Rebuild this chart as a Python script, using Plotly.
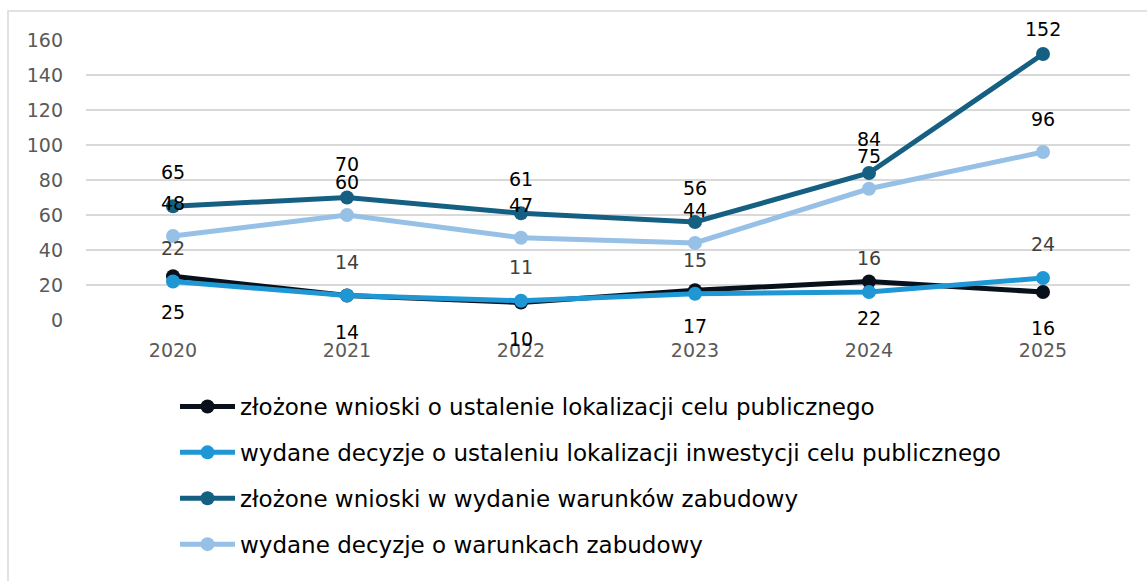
import plotly.graph_objects as go

years = ["2020", "2021", "2022", "2023", "2024", "2025"]
names = [
    "złożone wnioski o ustalenie lokalizacji celu publicznego",
    "wydane decyzje o ustaleniu lokalizacji inwestycji celu publicznego",
    "złożone wnioski w wydanie warunków zabudowy",
    "wydane decyzje o warunkach zabudowy",
]
s_wnioski_lcp = [25, 14, 10, 17, 22, 16]
s_decyzje_lcp = [22, 14, 11, 15, 16, 24]
s_wnioski_wz = [65, 70, 61, 56, 84, 152]
s_decyzje_wz = [48, 60, 47, 44, 75, 96]
y_ticks = [0, 20, 40, 60, 80, 100, 120, 140, 160]

series = [s_wnioski_lcp, s_decyzje_lcp, s_wnioski_wz, s_decyzje_wz]
colors = ["#08111b", "#1f97d5", "#156082", "#97c0e6"]
label_colors = ["#000000", "#404040", "#000000", "#000000"]
label_shift = [-36, 34, 34, 33]

FONT = "DejaVu Sans, sans-serif"
W, H = 1147, 581
ML, MR, MT, MB = 86, 17, 40, 261
pw, ph = W - ML - MR, H - MT - MB

xi = list(range(len(years)))

fig = go.Figure()
for i, (nm, vals) in enumerate(zip(names, series)):
    fig.add_trace(go.Scatter(
        x=xi, y=vals, name=nm, mode="lines+markers",
        line=dict(color=colors[i], width=5),
        marker=dict(color=colors[i], size=14),
        legendgroup=f"g{i}", cliponaxis=False,
    ))

annotations = []
for i, vals in enumerate(series):
    for x, v in zip(xi, vals):
        shift = label_shift[i]
        if v == 152:
            shift = 25
        annotations.append(dict(
            x=x, y=v, xref="x", yref="y", text=str(v), showarrow=False,
            yshift=shift, font=dict(size=19, color=label_colors[i], family=FONT),
        ))

def px_x(p):
    return (p - ML) / pw

def px_y(p):
    return (H - MB - p) / ph

shapes = [dict(
    type="rect", xref="paper", yref="paper",
    x0=px_x(8), x1=px_x(1160), y0=px_y(600), y1=px_y(11),
    line=dict(color="#d9d9d9", width=1.5), fillcolor="rgba(0,0,0,0)",
    layer="below",
)]

fig.update_layout(
    width=W, height=H,
    margin=dict(l=ML, r=MR, t=MT, b=MB),
    paper_bgcolor="white", plot_bgcolor="white",
    font=dict(family=FONT),
    showlegend=True,
    legend=dict(
        orientation="v", x=px_x(175), xanchor="left",
        y=px_y(385), yanchor="top",
        font=dict(size=23, color="#000000", family=FONT),
        tracegroupgap=13, bgcolor="rgba(0,0,0,0)",
        itemwidth=55,
    ),
    annotations=annotations,
    shapes=shapes,
)
fig.update_xaxes(
    range=[-0.5, len(years) - 0.5], tickvals=xi, ticktext=years,
    showgrid=False, showline=False, zeroline=False,
    tickfont=dict(size=19, color="#595959", family=FONT), ticks="",
    ticklabelstandoff=17,
)
fig.update_yaxes(
    range=[0, 160], tickvals=y_ticks, showgrid=True, gridcolor="#d9d9d9",
    gridwidth=1.5, zeroline=False, showline=False,
    tickfont=dict(size=19, color="#595959", family=FONT), ticks="",
    ticklabelstandoff=22,
)

fig.write_html("out.html", config={"displayModeBar": False},
               post_script="document.body.style.margin='0';")
